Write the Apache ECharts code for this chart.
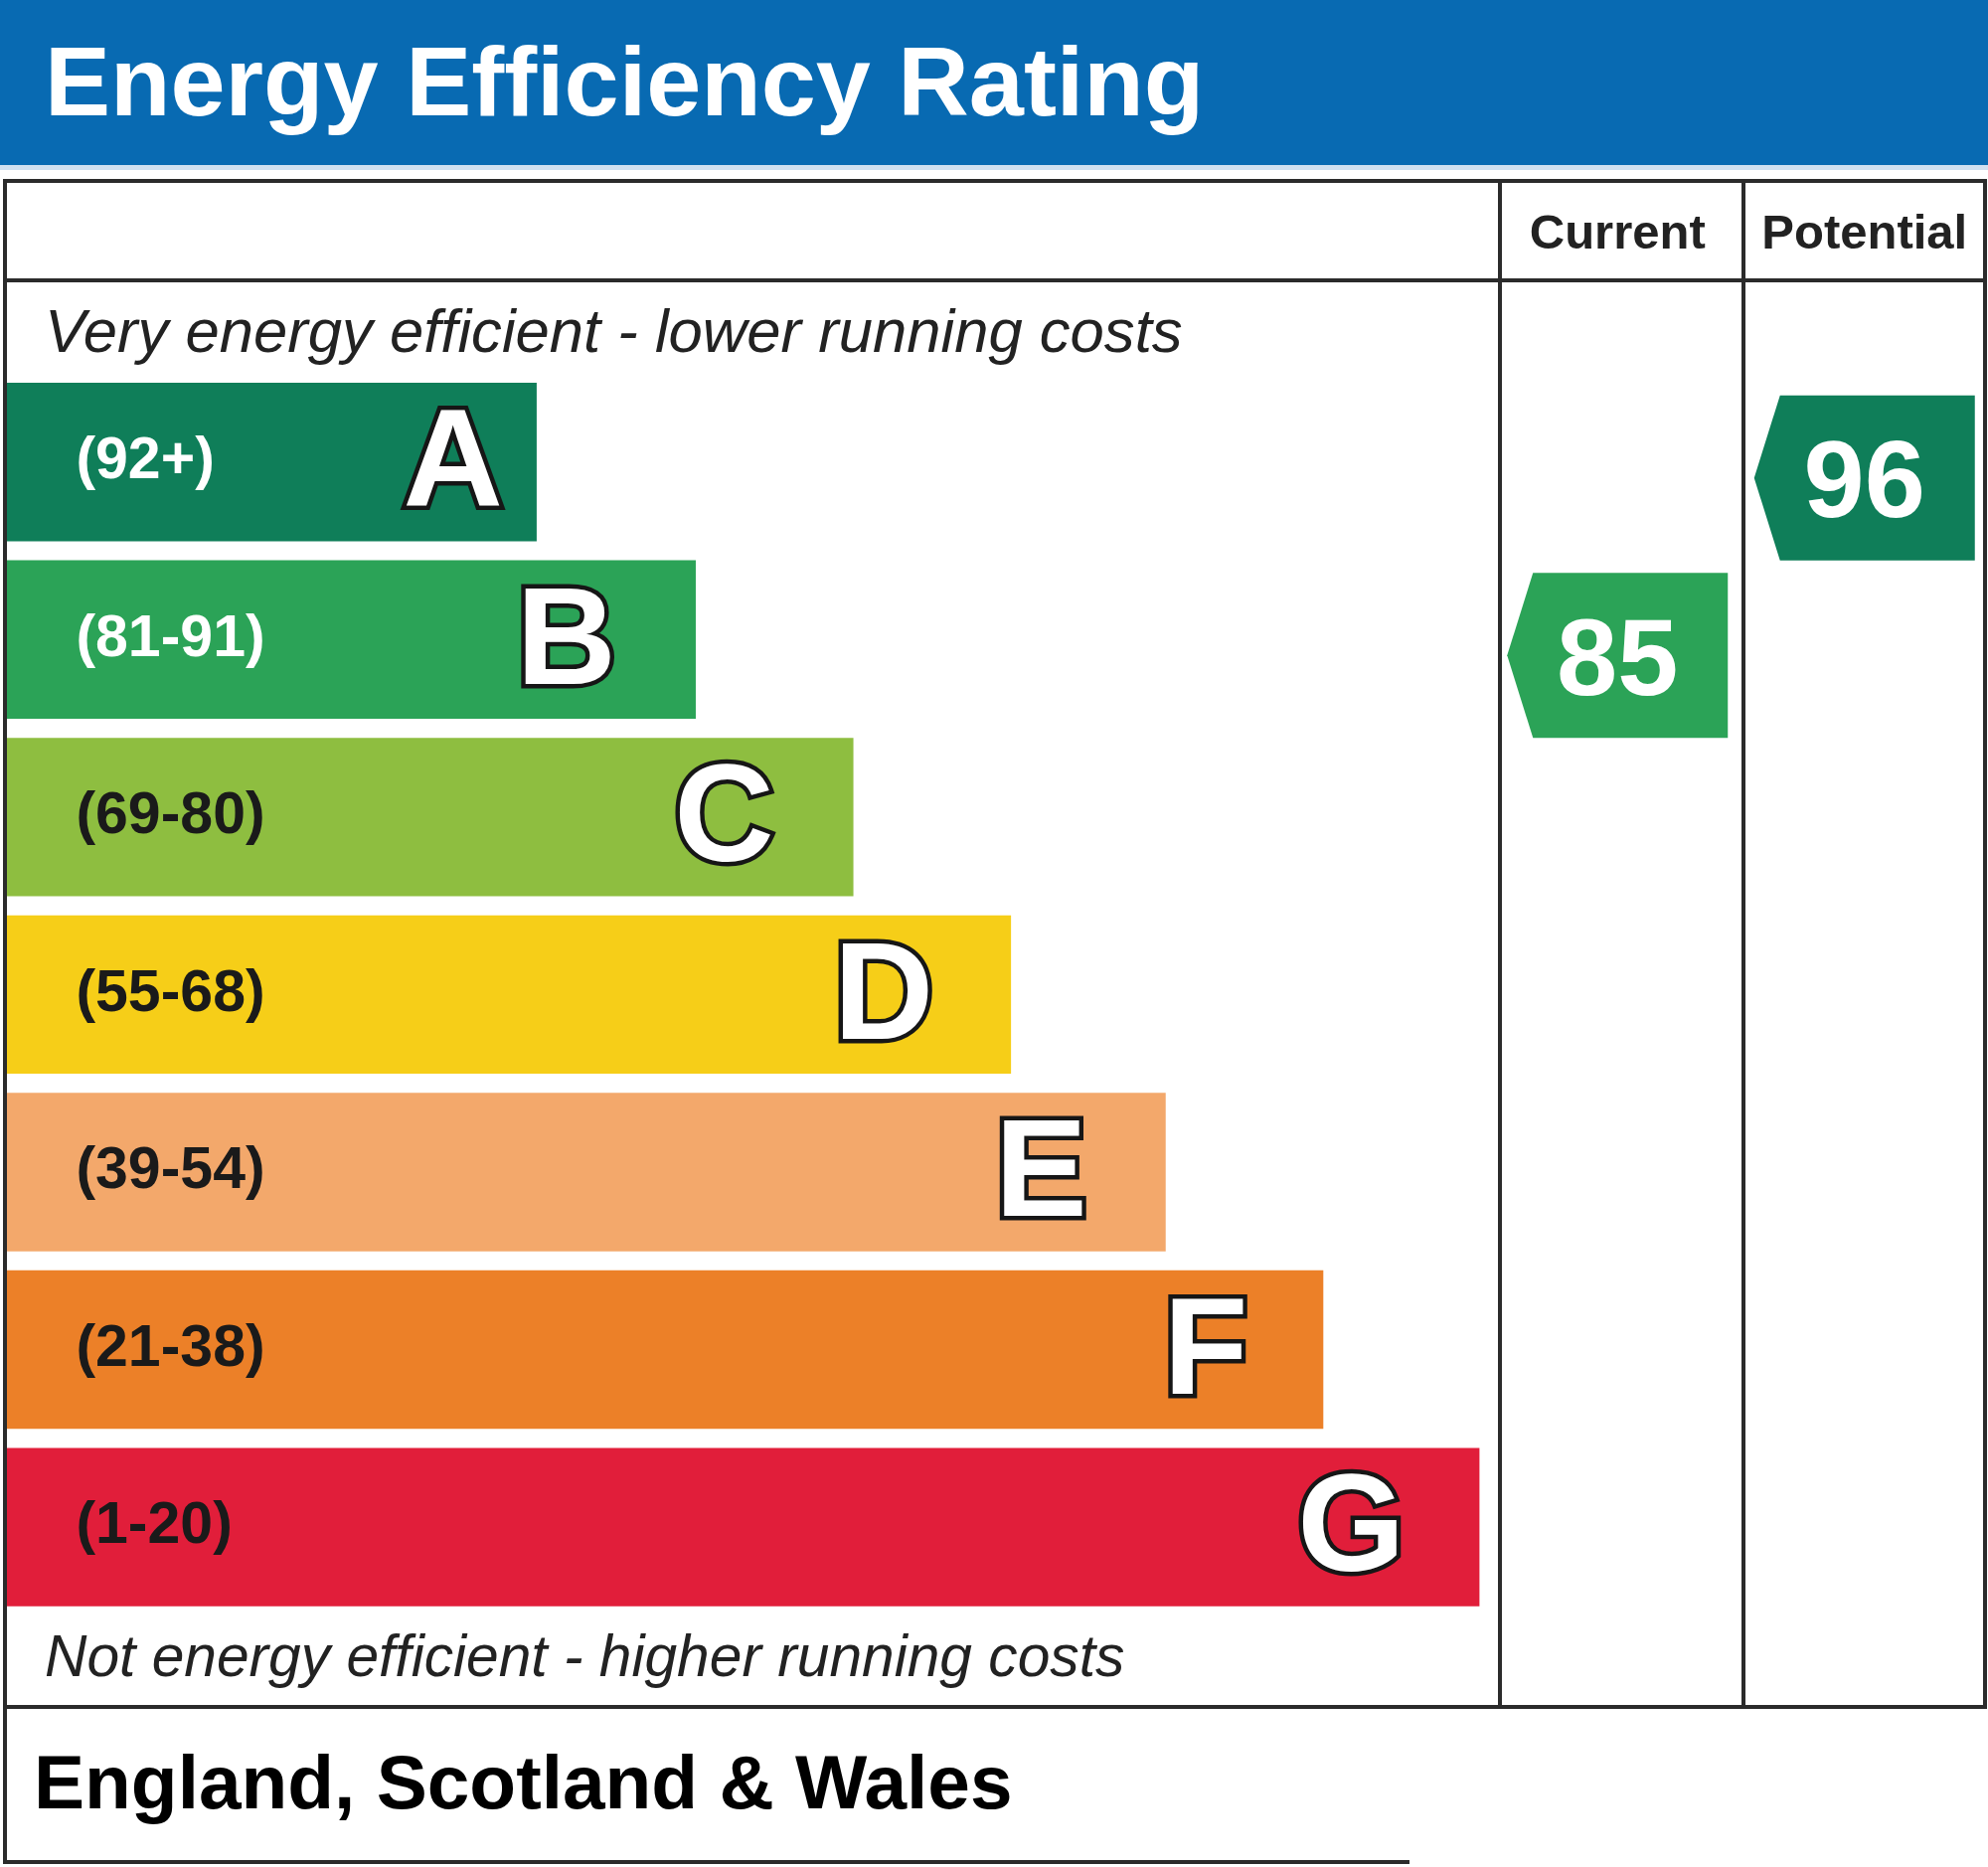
<!DOCTYPE html>
<html><head><meta charset="utf-8">
<script src="https://cdn.jsdelivr.net/npm/echarts@6/dist/echarts.min.js"></script>
<style>html,body{margin:0;padding:0;background:#fff}#c{width:2000px;height:1878px}</style>
</head><body><div id="c"></div>
<script>
// ---- data ----
const bands = ['A','B','C','D','E','F','G'];
const rangeLabels = ['(92+)','(81-91)','(69-80)','(55-68)','(39-54)','(21-38)','(1-20)'];
const bandMin = [92,81,69,55,39,21,1];
const barLengths = [36.0,46.8,57.5,68.2,78.7,89.4,100];
const columns = ['Current','Potential'];
const ratings = [85, 96];
const titleText = 'Energy Efficiency Rating';
const topNote = 'Very energy efficient - lower running costs';
const bottomNote = 'Not energy efficient - higher running costs';
const footerText = 'England, Scotland & Wales';

// ---- styles ----
const bandColors = ['#0f7e59','#2ba357','#8ebe40','#f6ce18','#f3a86b','#ec8028','#e11e3a'];
const rangeTextColors = ['#ffffff','#ffffff','#1a1a1a','#1a1a1a','#1a1a1a','#1a1a1a','#1a1a1a'];
const letterInset = [34, 80, 80, 78, 79, 76, 75];
const FF = '"Liberation Sans", Arial, Helvetica, sans-serif';
const LINE = '#2b2b2b';

function bandIndex(v){ for (let i=0;i<bandMin.length;i++){ if (v>=bandMin[i]) return i; } return bandMin.length-1; }

const chart = echarts.init(document.getElementById('c'), null, {renderer:'canvas'});

const gridTop = 375.4, gridH = 1250, barW = 159.4;

function line(x1,y1,x2,y2){ return {type:'line', z:10, shape:{x1,y1,x2,y2}, style:{stroke:LINE, lineWidth:4}}; }

const option = {
  animation:false,
  backgroundColor:'#ffffff',
  grid:[
    {left:6.4, top:gridTop, width:1482, height:gridH},
    {left:1503, top:gridTop, width:500, height:gridH}
  ],
  xAxis:[
    {type:'value', gridIndex:0, min:0, max:100, show:false},
    {type:'category', gridIndex:1, data:columns, position:'top',
     axisLine:{show:false}, axisTick:{show:false}, splitLine:{show:false},
     axisLabel:{show:true, interval:0, margin:139, verticalAlign:'middle', fontSize:49, fontWeight:'bold', color:'#222', fontFamily:FF}}
  ],
  yAxis:[
    {type:'category', gridIndex:0, data:bands, inverse:true, show:false},
    {type:'category', gridIndex:1, data:bands, inverse:true, show:false}
  ],
  series:[
    {type:'bar', xAxisIndex:0, yAxisIndex:0, barWidth:barW, barGap:'-100%',
     data: barLengths.map((v,i)=>({value:v, itemStyle:{color:bandColors[i]}, label:{color:rangeTextColors[i]}})),
     label:{show:true, position:'insideLeft', distance:70, formatter:p=>rangeLabels[p.dataIndex],
            fontSize:59, fontWeight:'bold', fontFamily:FF}},
    {type:'bar', xAxisIndex:0, yAxisIndex:0, barWidth:barW, barGap:'-100%',
     data: barLengths.map((v,i)=>({value:v, label:{distance:letterInset[i]}})),
     itemStyle:{color:'rgba(0,0,0,0)'},
     label:{show:true, position:'insideRight', offset:[0,6], formatter:p=>bands[p.dataIndex],
            fontSize:139, fontWeight:'bold', fontFamily:FF, color:'#ffffff',
            textBorderColor:'#161616', textBorderWidth:9}},
    {type:'custom', xAxisIndex:1, yAxisIndex:1,
     data: ratings.map((v,i)=>[i, bandIndex(v), v]),
     encode:{x:0, y:1},
     renderItem:function(params, api){
       const c = api.coord([api.value(0), api.value(1)]);
       const sz = api.size([1,1]);
       const bh = sz[1];
       const h = bh*0.93, cy = c[1] + bh*0.09, cx = c[0];
       const halfW = 111, tip = 26;
       const v = api.value(2);
       const col = bandColors[bandIndex(v)];
       return {type:'group', children:[
         {type:'polygon', shape:{points:[[cx-halfW,cy],[cx-halfW+tip,cy-h/2],[cx+halfW,cy-h/2],[cx+halfW,cy+h/2],[cx-halfW+tip,cy+h/2]]},
          style:{fill:col}},
         {type:'text', style:{text:String(v), x:cx, y:cy+9, align:'center', verticalAlign:'middle',
          fill:'#ffffff', font:'bold 110px '+FF}}
       ]};
     }}
  ],
  graphic:[
    {type:'rect', z:1, shape:{x:0,y:0,width:2000,height:166}, style:{fill:'#086ab2'}},
    {type:'rect', z:1, shape:{x:0,y:166,width:2000,height:5}, style:{fill:'#cfe0f0'}},
    {type:'text', z:11, style:{text:titleText, x:45, y:89, align:'left', verticalAlign:'middle', fill:'#ffffff', font:'bold 99px '+FF}},
    {type:'text', z:11, style:{text:topNote, x:45, y:337, align:'left', verticalAlign:'middle', fill:'#222222', font:'italic 61.6px '+FF}},
    {type:'text', z:11, style:{text:bottomNote, x:45, y:1670, align:'left', verticalAlign:'middle', fill:'#222222', font:'italic 58.7px '+FF}},
    {type:'text', z:11, style:{text:footerText, x:34, y:1798, align:'left', verticalAlign:'middle', fill:'#000000', font:'bold 76.6px '+FF}},
    line(5,182,1997,182),
    line(5,282,1997,282),
    line(5,180,5,1875),
    line(1997,180,1997,1719),
    line(1509,182,1509,1717),
    line(1754,182,1754,1717),
    line(3,1717,1999,1717),
    line(3,1873,1418,1873)
  ]
};
chart.setOption(option);
</script>
</body></html>
